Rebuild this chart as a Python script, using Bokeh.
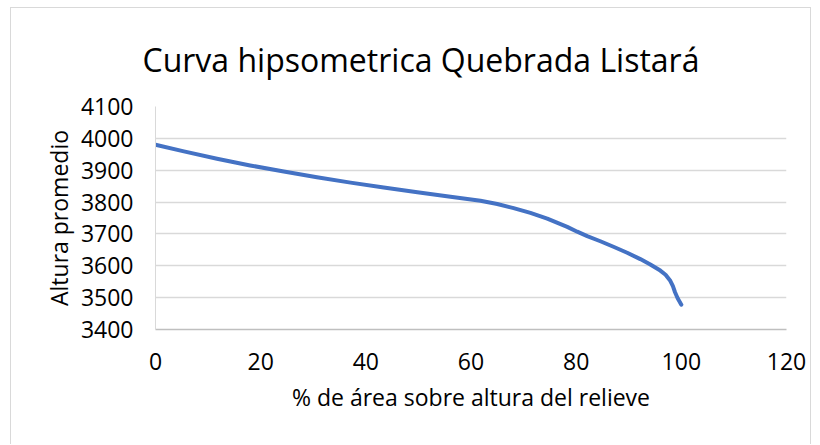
from bokeh.plotting import figure
from bokeh.embed import file_html
from bokeh.resources import INLINE
from bokeh.models import FixedTicker, Range1d

# Data
area_pct = [0, 5.4, 11.7, 18.0, 24.4, 30.7, 37.1, 43.4, 49.8, 56.1, 61.8, 65.0,
            68.1, 71.3, 74.5, 78.3, 80.2, 82.1, 84.6, 87.2, 89.7, 92.2, 94.1,
            96.0, 97.0, 97.9, 98.4, 98.8, 99.3, 100]
altura = [3980, 3959, 3936, 3915, 3896, 3878, 3861, 3846, 3831, 3817, 3804, 3794,
          3781, 3766, 3748, 3722, 3707, 3693, 3677, 3659, 3641, 3621, 3604,
          3585, 3572, 3553, 3536, 3517, 3498, 3478]
x_ticks = [0, 20, 40, 60, 80, 100, 120]
y_ticks = [3400, 3500, 3600, 3700, 3800, 3900, 4000, 4100]
chart_title = "Curva hipsometrica Quebrada Listará"

FONT = "Open Sans"
TXT = "#000000"

p = figure(width=801, height=437, output_backend="svg", toolbar_location=None,
           x_range=Range1d(0, 120), y_range=Range1d(3400, 4100),
           min_border_left=144, min_border_right=26, min_border_top=98,
           min_border_bottom=116, title=chart_title)

p.styles = {"border-style": "solid solid none solid", "border-width": "1px",
            "border-color": "#D9D9D9", "margin-left": "10px", "margin-top": "7px"}

p.title.text_font = FONT
p.title.text_font_size = "32px"
p.title.text_font_style = "normal"
p.title.text_color = TXT
p.title.align = "left"
p.title.offset = -13
p.title.standoff = 51

p.outline_line_color = None
p.background_fill_color = "white"
p.border_fill_color = "white"

p.line(area_pct, altura, line_color="#4472C4", line_width=4, line_join="round",
       line_cap="round")

p.xaxis.ticker = FixedTicker(ticks=x_ticks)
p.yaxis.ticker = FixedTicker(ticks=y_ticks)

for ax in (p.xaxis[0], p.yaxis[0]):
    ax.major_tick_line_color = None
    ax.minor_tick_line_color = None
    ax.major_label_text_font = FONT
    ax.major_label_text_font_size = "23px"
    ax.major_label_text_color = TXT
    ax.axis_label_text_font = FONT
    ax.axis_label_text_font_size = "23px"
    ax.axis_label_text_font_style = "normal"
    ax.axis_label_text_color = TXT

p.xaxis.axis_label = "% de área sobre altura del relieve"
p.yaxis.axis_label = "Altura promedio"
p.xaxis.axis_line_color = "#BFBFBF"
p.xaxis.axis_line_width = 1.5
p.yaxis.axis_line_color = "#D9D9D9"
p.xaxis.major_label_standoff = 17
p.yaxis.major_label_standoff = 16
p.xaxis.axis_label_standoff = 8
p.yaxis.axis_label_standoff = 3

p.xgrid.grid_line_color = None
p.ygrid.grid_line_color = "#D9D9D9"
p.ygrid.grid_line_width = 1.5

open("out.html", "w").write(file_html(p, INLINE))
